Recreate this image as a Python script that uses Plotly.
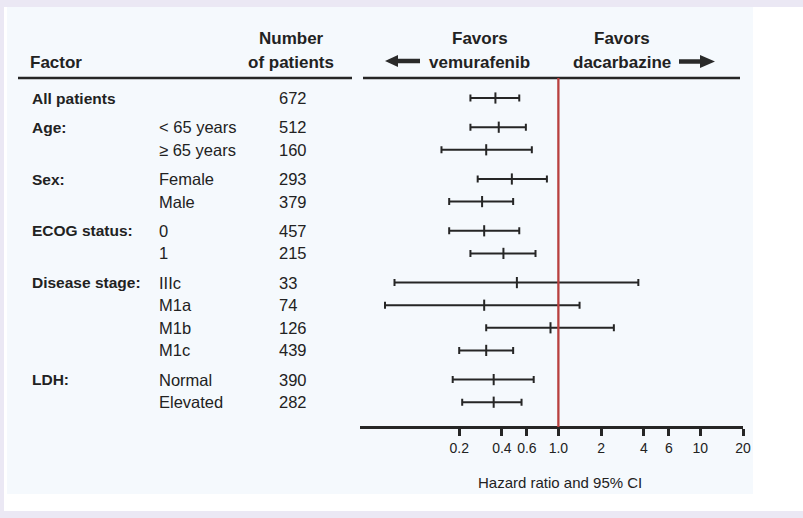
import plotly.graph_objects as go

# ---------------- data ----------------
factor_labels = ["All patients", "Age:", "", "Sex:", "", "ECOG status:", "",
                 "Disease stage:", "", "", "", "LDH:", ""]
subgroup_labels = ["", "< 65 years", "≥ 65 years", "Female", "Male", "0", "1",
                   "IIIc", "M1a", "M1b", "M1c", "Normal", "Elevated"]
n_patients = [672, 512, 160, 293, 379, 457, 215, 33, 74, 126, 439, 390, 282]
hazard_ratio = [0.36, 0.38, 0.31, 0.47, 0.29, 0.30, 0.41, 0.51, 0.30, 0.88, 0.31, 0.35, 0.35]
ci_low = [0.24, 0.24, 0.15, 0.27, 0.17, 0.17, 0.24, 0.07, 0.06, 0.31, 0.20, 0.18, 0.21]
ci_high = [0.53, 0.59, 0.65, 0.83, 0.48, 0.53, 0.69, 3.66, 1.41, 2.46, 0.48, 0.67, 0.55]
group_index = [0, 1, 1, 2, 2, 3, 3, 4, 4, 4, 4, 5, 5]
tick_values = [0.2, 0.4, 0.6, 1.0, 2, 4, 6, 10, 20]
tick_labels = ["0.2", "0.4", "0.6", "1.0", "2", "4", "6", "10", "20"]

# ---------------- layout helpers ----------------
W, H = 803, 518
FONT = "Liberation Sans, Arial, Helvetica, sans-serif"
TXT = "#222222"
LINE = "#262626"
RED = "#b8403f"

def px(x):
    return x / W

row_y = [98 + i * 22.6 + g * 6.6 for i, g in enumerate(group_index)]
axis_y = 427

fig = go.Figure()

# CI bars with point estimates
fig.add_trace(go.Scatter(
    x=hazard_ratio, y=row_y, mode="markers",
    marker=dict(symbol="line-ns", size=8, color=LINE, line=dict(width=2, color=LINE)),
    error_x=dict(type="data", symmetric=False,
                 array=[h - m for h, m in zip(ci_high, hazard_ratio)],
                 arrayminus=[m - l for m, l in zip(hazard_ratio, ci_low)],
                 color=LINE, thickness=2, width=3.5),
    hoverinfo="skip", showlegend=False, cliponaxis=False,
))

annotations = []

def text(x, y, s, size=16, bold=False, anchor="left"):
    annotations.append(dict(
        x=px(x), y=y, xref="paper", yref="y", text=("<b>%s</b>" % s) if bold else s,
        showarrow=False, xanchor=anchor, yanchor="middle",
        font=dict(family=FONT, size=size, color=TXT)))

# headers
HS = 17
text(28, 62, "Factor", HS, True)
text(291, 38, "Number", HS, True, "center")
text(291, 62, "of patients", HS, True, "center")
text(480, 38, "Favors", HS, True, "center")
text(480, 62, "vemurafenib", HS, True, "center")
text(622, 38, "Favors", HS, True, "center")
text(622, 62, "dacarbazine", HS, True, "center")

# table rows
for y, f, s, n in zip(row_y, factor_labels, subgroup_labels, n_patients):
    if f:
        text(30, y, f, 15.5, True)
    if s:
        text(157, y, s, 16.5)
    text(277, y, str(n), 16.5)

# axis title
text(560, 482, "Hazard ratio and 95% CI", 15, False, "center")

def arrow_shapes(tip, base, tail, yc, half):
    return [
        dict(type="line", xref="paper", yref="y", x0=px(base), x1=px(tail), y0=yc, y1=yc,
             line=dict(color="#2a2a2a", width=4.5)),
        dict(type="path", xref="paper", yref="y",
             path="M %f,%f L %f,%f L %f,%f Z" % (px(tip), yc, px(base), yc - half, px(base), yc + half),
             fillcolor="#2a2a2a", line=dict(width=0)),
    ]

shapes = [
    # white card and light panel
    dict(type="rect", xref="paper", yref="y", x0=px(4), x1=1.01, y0=7, y1=511,
         fillcolor="#ffffff", line=dict(width=0), layer="below"),
    dict(type="rect", xref="paper", yref="y", x0=px(7), x1=px(753), y0=7, y1=494,
         fillcolor="#f5f9fd", line=dict(width=0), layer="below"),
    # header rules
    dict(type="line", xref="paper", yref="y", x0=px(18), x1=px(352), y0=78, y1=78,
         line=dict(color=LINE, width=2.7)),
    dict(type="line", xref="paper", yref="y", x0=px(363), x1=px(740), y0=78, y1=78,
         line=dict(color=LINE, width=2.7)),
    # reference line at HR = 1
    dict(type="line", xref="x", yref="y", x0=1, x1=1, y0=78, y1=axis_y,
         line=dict(color=RED, width=2.3)),
]
shapes += arrow_shapes(385, 398, 420, 61, 6)
shapes += arrow_shapes(715, 700, 679, 61.5, 6.5)

fig.update_layout(
    width=W, height=H, autosize=False,
    margin=dict(l=0, r=0, t=0, b=0, pad=0, autoexpand=False),
    paper_bgcolor="#ebe8f4", plot_bgcolor="rgba(0,0,0,0)",
    showlegend=False, annotations=annotations, shapes=shapes,
    xaxis=dict(type="log", domain=[px(360), px(743)], automargin=False,
               range=[-1.398, 1.301], anchor="free", position=(H - axis_y) / H,
               showgrid=False, zeroline=False, showline=True, linecolor=LINE, linewidth=2.7,
               ticks="outside", ticklen=7, tickwidth=2.5, tickcolor=LINE,
               tickvals=tick_values, ticktext=tick_labels,
               tickfont=dict(family=FONT, size=14, color=TXT), fixedrange=True),
    yaxis=dict(range=[H, 0], domain=[0, 1], visible=False, fixedrange=True, automargin=False),
)

fig.write_html(
    "out.html",
    config={"displayModeBar": False, "responsive": False},
    default_width="803px", default_height="518px",
    post_script="document.documentElement.style.overflow='hidden';"
                "document.body.style.margin='0px';document.body.style.padding='0px';"
                "document.body.style.overflow='hidden';",
)
